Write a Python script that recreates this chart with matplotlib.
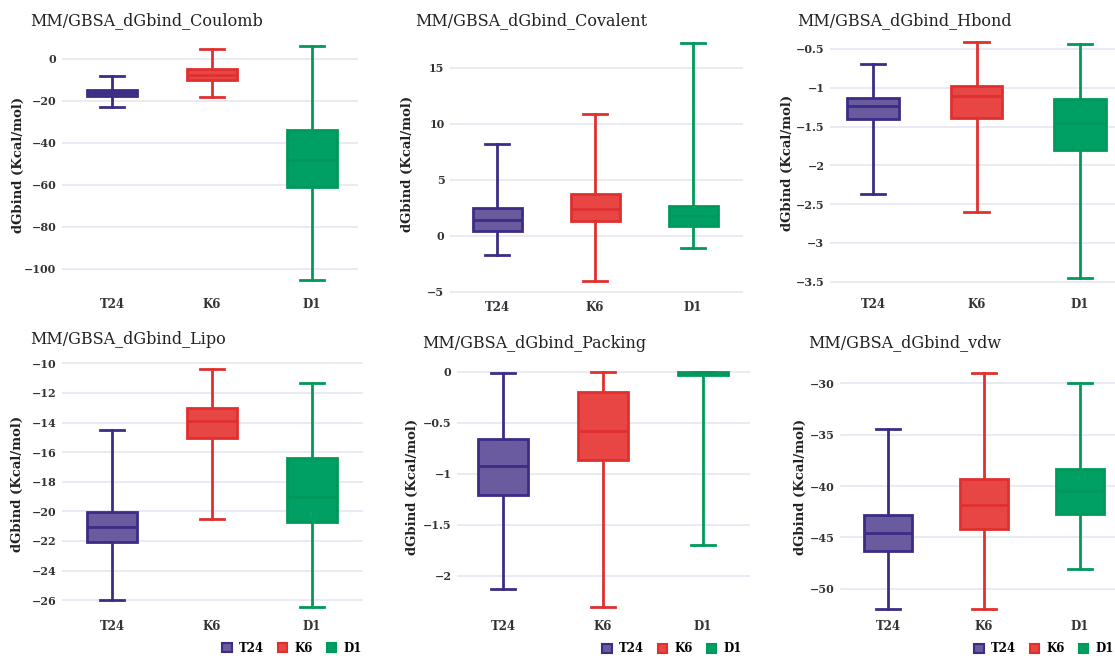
import matplotlib.pyplot as plt
from matplotlib.patches import Patch
from matplotlib.ticker import FuncFormatter

plt.rcParams['font.family'] = ['DejaVu Serif']

groups = ['T24', 'K6', 'D1']
edge_colors = ['#3d2b85', '#e0302e', '#00995a']
fill_colors = ['#6a5a9e', '#e84545', '#00a065']

# per panel: whislo, q1, med, q3, whishi for T24, K6, D1
coulomb = [(-22.8, -17.8, -16.5, -15.0, -8.4),
           (-18.4, -10.1, -7.6, -4.9, 4.6),
           (-105.4, -61.2, -48.2, -34.0, 6.2)]
covalent = [(-1.7, 0.4, 1.43, 2.5, 8.2),
            (-4.0, 1.28, 2.35, 3.75, 10.9),
            (-1.13, 0.83, 1.72, 2.68, 17.2)]
hbond = [(-2.37, -1.40, -1.24, -1.135, -0.69),
         (-2.6, -1.39, -1.11, -0.98, -0.41),
         (-3.455, -1.80, -1.46, -1.15, -0.44)]
lipo = [(-26.0, -22.05, -21.04, -20.07, -14.5),
        (-20.5, -15.03, -13.88, -13.04, -10.4),
        (-26.45, -20.72, -19.05, -16.42, -11.35)]
packing = [(-2.13, -1.21, -0.92, -0.66, -0.016),
           (-2.31, -0.865, -0.58, -0.196, 0.0),
           (-1.70, -0.03, -0.015, -0.003, 0.0)]
vdw = [(-51.96, -46.3, -44.6, -42.8, -34.47),
       (-51.96, -44.2, -41.84, -39.3, -28.97),
       (-48.1, -42.7, -40.5, -38.3, -30.0)]

titles = ['MM/GBSA_dGbind_Coulomb', 'MM/GBSA_dGbind_Covalent', 'MM/GBSA_dGbind_Hbond',
          'MM/GBSA_dGbind_Lipo', 'MM/GBSA_dGbind_Packing', 'MM/GBSA_dGbind_vdw']
panel_data = [coulomb, covalent, hbond, lipo, packing, vdw]
yticks = [[-100, -80, -60, -40, -20, 0],
          [-5, 0, 5, 10, 15],
          [-3.5, -3, -2.5, -2, -1.5, -1, -0.5],
          [-26, -24, -22, -20, -18, -16, -14, -12, -10],
          [-2, -1.5, -1, -0.5, 0],
          [-50, -45, -40, -35, -30]]
ylims = [(-110.1, 8.9), (-5.1, 17.9), (-3.606, -0.32),
         (-26.8, -9.44), (-2.356, 0.095), (-52.25, -27.93)]

W, H = 1115, 656
# left, right, top, bottom of plot area (px), first category x, spacing, title x, ylabel x
layout = [(62, 358, 40, 290, 112, 100, 30, 18),
          (450, 743, 35, 293, 497, 98, 415, 407),
          (830, 1115, 35, 290, 873, 103.5, 797, 787),
          (62, 363, 355, 612, 112, 100, 30, 17),
          (457, 750, 362, 612, 503, 100, 422, 412),
          (840, 1115, 362, 612, 888, 96, 808, 800)]
title_y = [21, 21, 21, 340, 343, 343]
legend_pos = [(292, 648), (672, 649), (1044, 649)]

fmt = FuncFormatter(lambda v, p: ('%g' % v).replace('-', '\u2212'))

fig = plt.figure(figsize=(W / 100, H / 100), dpi=100)
for i in range(6):
    l, r, t, b, c0, sp, tx, lx = layout[i]
    ax = fig.add_axes([l / W, 1 - b / H, (r - l) / W, (b - t) / H])
    stats = []
    for g, s in zip(groups, panel_data[i]):
        stats.append(dict(label=g, whislo=s[0], q1=s[1], med=s[2], q3=s[3], whishi=s[4]))
    bp = ax.bxp(stats, positions=[0, 1, 2], widths=0.5, capwidths=0.24,
                patch_artist=True, showfliers=False)
    for j in range(3):
        bp['boxes'][j].set(facecolor=fill_colors[j], edgecolor=edge_colors[j], linewidth=2)
        bp['medians'][j].set(color=edge_colors[j], linewidth=2)
        for k in (2 * j, 2 * j + 1):
            bp['whiskers'][k].set(color=edge_colors[j], linewidth=2)
            bp['caps'][k].set(color=edge_colors[j], linewidth=2)
    ax.set_xlim((l - c0) / sp, (r - c0) / sp)
    ax.set_ylim(*ylims[i])
    ax.set_yticks(yticks[i])
    ax.yaxis.set_major_formatter(fmt)
    ax.set_xticks([0, 1, 2])
    ax.set_xticklabels(groups)
    ax.grid(axis='y', color='#e6e6f2', linewidth=1.2)
    ax.set_axisbelow(True)
    for sp_ in ax.spines.values():
        sp_.set_visible(False)
    ax.tick_params(length=0, colors='#333333')
    ax.tick_params(axis='y', labelsize=8, pad=4)
    ax.tick_params(axis='x', labelsize=8.5, pad=6)
    for lab in ax.get_xticklabels() + ax.get_yticklabels():
        lab.set_fontweight('bold')
    fig.text(tx / W, 1 - title_y[i] / H, titles[i], fontsize=11.5,
             color='#222222', va='center', ha='left')
    fig.text(lx / W, 1 - (t + b) / 2 / H, 'dGbind (Kcal/mol)', rotation=90,
             fontsize=9.5, fontweight='bold', color='#222222', va='center', ha='center')

handles = [Patch(facecolor=fill_colors[j], edgecolor=edge_colors[j], linewidth=1.5, label=groups[j])
           for j in range(3)]
for (x, y) in legend_pos:
    fig.legend(handles=handles, loc='center', bbox_to_anchor=(x / W, 1 - y / H), ncol=3,
               frameon=False, handlelength=0.8, handleheight=0.8, handletextpad=0.6,
               columnspacing=1.2, prop={'weight': 'bold', 'size': 8.5})

fig.savefig('out.png', dpi=100, facecolor='white')
